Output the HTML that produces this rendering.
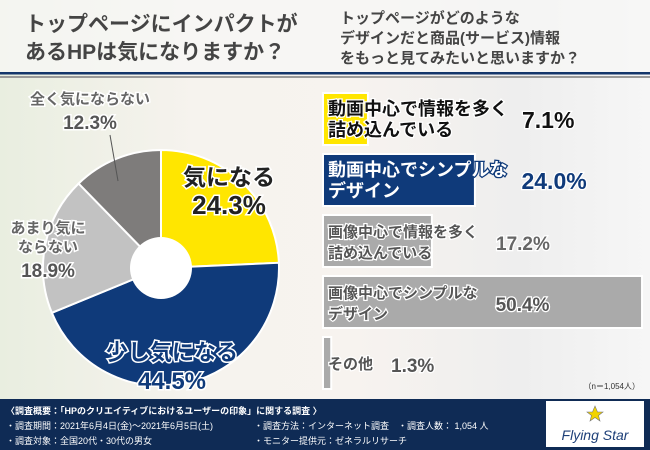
<!DOCTYPE html>
<html><head><meta charset="utf-8">
<style>
html,body{margin:0;padding:0}
body{width:650px;height:450px;overflow:hidden;position:relative;font-family:"Liberation Sans","Noto Sans CJK JP",sans-serif;background:linear-gradient(90deg,#e9eee0 0%,#f6f3ee 30%,#f7f3ef 55%,#eeeeee 80%,#f6f6f6 100%)}
svg{position:absolute;left:0;top:0}
</style></head><body>
<svg id="chart" width="650" height="450" viewBox="0 0 650 450">
  <rect x="0" y="0" width="650" height="72" fill="#f7f7f5" opacity="0.75"/>
  <text x="25" y="31" font-size="21" font-weight="bold" fill="#444">トップページにインパクトが</text>
  <text x="25" y="59" font-size="21" font-weight="bold" fill="#444">あるHPは気になりますか？</text>
  <text x="340" y="23" font-size="15" font-weight="bold" fill="#444">トップページがどのような</text>
  <text x="340" y="43" font-size="15" font-weight="bold" fill="#444">デザインだと商品(サービス)情報</text>
  <text x="340" y="63" font-size="15" font-weight="bold" fill="#444">をもっと見てみたいと思いますか？</text>
  <rect x="0" y="72" width="650" height="2.5" fill="#14366b"/>
  <rect x="0" y="76" width="650" height="2" fill="#999"/>
  <g id="pie"></g>
  <g id="bars"></g>
  <text x="640" y="389" font-size="8" fill="#333" text-anchor="end">（n＝1,054人）</text>
  <rect x="0" y="399" width="650" height="51" fill="#0f2b55"/>
  <text x="6" y="414" font-size="9" font-weight="bold" fill="#fff">〈調査概要：「HPのクリエイティブにおけるユーザーの印象」に関する調査 〉</text>
  <text x="6" y="429" font-size="9" fill="#fff">・調査期間：2021年6月4日(金)〜2021年6月5日(土)</text>
  <text x="254" y="429" font-size="9" fill="#fff">・調査方法：インターネット調査　・調査人数： 1,054 人</text>
  <text x="6" y="444" font-size="9" fill="#fff">・調査対象：全国20代・30代の男女</text>
  <text x="254" y="444" font-size="9" fill="#fff">・モニター提供元：ゼネラルリサーチ</text>
  <g>
    <rect x="546" y="401" width="98" height="46" fill="#fff"/>
    <polygon points="595,406 597.5,412 603,412 598.5,415.5 600,421 595,417.5 590,421 591.5,415.5 587,412 592.5,412" fill="#f2d400" stroke="#777" stroke-width="0.6"/>
    <text x="595" y="440" font-size="14" font-style="italic" fill="#1d3f78" text-anchor="middle">Flying Star</text>
  </g>
</svg>
<script>
const pieLabels=["気になる","少し気になる","あまり気にならない","全く気にならない"];
const pieValues=[24.3,44.5,18.9,12.3];
const pieColors=["#ffe600","#0f3a7a","#c2c2c2","#7e7c7b"];
const barLabels1=["動画中心で情報を多く","動画中心でシンプルな","画像中心で情報を多く","画像中心でシンプルな","その他"];
const barLabels2=["詰め込んでいる","デザイン","詰め込んでいる","デザイン",""];
const barValues=[7.1,24.0,17.2,50.4,1.3];

const NS="http://www.w3.org/2000/svg";
function mk(tag,attrs,parent){const e=document.createElementNS(NS,tag);for(const k in attrs)e.setAttribute(k,attrs[k]);parent.appendChild(e);return e;}

const pie=document.getElementById('pie');
const cx=161,cy=268,R=118,hole=31;
const total=pieValues.reduce((a,b)=>a+b,0);
function pt(a,r){return [cx+r*Math.sin(a),cy-r*Math.cos(a)];}
let acc=0;
pieValues.forEach((v,i)=>{
  const a0=acc/total*2*Math.PI;acc+=v;const a1=acc/total*2*Math.PI;
  const p0=pt(a0,R),p1=pt(a1,R);const large=(a1-a0)>Math.PI?1:0;
  const p=mk('path',{d:`M${cx},${cy} L${p0[0]},${p0[1]} A${R},${R} 0 ${large} 1 ${p1[0]},${p1[1]} Z`,fill:pieColors[i],stroke:'#fff','stroke-width':2},pie);
  
  
});
const h=mk('circle',{cx:cx,cy:cy,r:hole,fill:'#fff'},pie);


function txt(parent,x,y,s,size,fill,name,extra){const t=mk('text',Object.assign({x:x,y:y,'font-size':size,fill:fill,'font-weight':'bold','text-anchor':'middle'},extra||{}),parent);t.textContent=s;
  
  
  return t;}
const halo={stroke:'#fff','stroke-width':3,'paint-order':'stroke'};
txt(pie,229,185,pieLabels[0],23,'#222','pie-label-1',halo);
txt(pie,229,214,pieValues[0].toFixed(1)+'%',26,'#222','pie-value-1',halo);
txt(pie,172,360,pieLabels[1],22,'#0f3a7a','pie-label-2',halo);
txt(pie,172,389,pieValues[1].toFixed(1)+'%',24,'#0f3a7a','pie-value-2',halo);
txt(pie,48,233,"あまり気に",15,'#666','pie-label-3a',halo);
txt(pie,48,252,"ならない",15,'#666','pie-label-3b',halo);
txt(pie,48,277,pieValues[2].toFixed(1)+'%',19,'#555','pie-value-3',halo);
txt(pie,90,104,pieLabels[3],15,'#666','pie-label-4',halo);
txt(pie,90,129,pieValues[3].toFixed(1)+'%',19,'#555','pie-value-4',halo);
const ld=mk('line',{x1:118,y1:181,x2:110,y2:135,stroke:'#555','stroke-width':1},pie);



const bars=document.getElementById('bars');
const bx=323,scale=6.33,top0=93,step=61,bh=52;
const barFill=["#ffe600","#0f3a7a","#aaaaaa","#aaaaaa","#aaaaaa"];
const labFill=["#111","#fff","#555","#555","#555"];
const valFill=["#111","#0f3a7a","#666","#555","#555"];
barValues.forEach((v,i)=>{
  const y=top0+i*step;
  const r=mk('rect',{x:bx,y:y,width:v*scale,height:bh,fill:barFill[i],stroke:'#fff','stroke-width':2},bars);
  
  
  const big=i<2;const fs=big?18:15;
  const two=barLabels2[i]!=="";
  const st={stroke:i===1?'#0f3a7a':'#fff','stroke-width':2.5,'paint-order':'stroke'};
  const l1=txt(bars,bx+5,y+(two?bh/2-4:bh/2+6),barLabels1[i],fs,labFill[i],'bar-label-'+(i+1),Object.assign({'text-anchor':'start'},st));
  let w=l1.getComputedTextLength();
  if(two){const l2=txt(bars,bx+5,y+bh/2+17,barLabels2[i],fs,labFill[i],'bar-label-'+(i+1)+'-line2',Object.assign({'text-anchor':'start'},st));w=Math.max(w,l2.getComputedTextLength());}
  const vx=bx+5+w+(big?14:18);
  txt(bars,vx,y+bh/2+9,v.toFixed(1)+'%',big?23:19,valFill[i],'bar-value-'+(i+1),Object.assign({'text-anchor':'start'},{stroke:'#fff','stroke-width':2.5,'paint-order':'stroke'}));
});
</script>
</body></html>
